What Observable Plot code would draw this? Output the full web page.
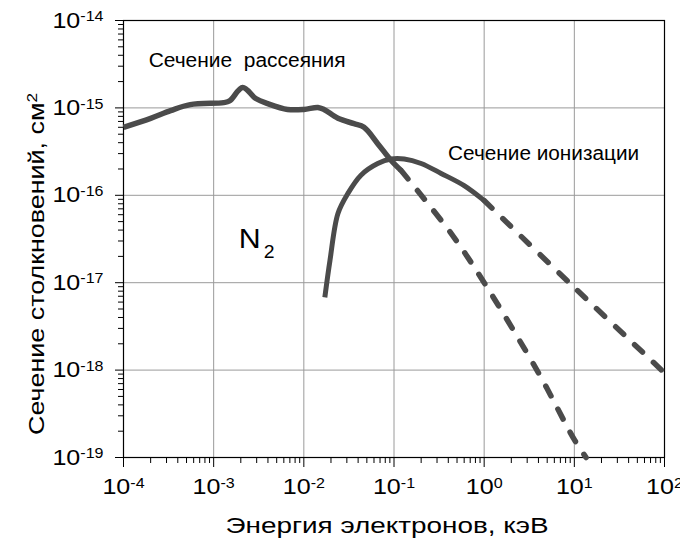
<!DOCTYPE html>
<html><head><meta charset="utf-8">
<script src="https://cdn.jsdelivr.net/npm/d3@7"></script>
<script src="https://cdn.jsdelivr.net/npm/@observablehq/plot@0.6"></script>
<style>
body{margin:0;background:#fff}
#chart svg{font-family:"Liberation Sans",Arial,sans-serif;background:#fff}
</style>
</head><body><div id="chart"></div><script>
// Scattering cross-section (solid part)
const scatterE = [1e-4, 2.0e-4, 3.33e-4, 5.5e-4, 1.29e-3, 1.5e-3, 2.1e-3, 2.93e-3, 3.98e-3, 6.6e-3, 1.0e-2, 1.43e-2, 1.67e-2, 2.39e-2, 3.6e-2, 4.65e-2, 6.6e-2, 9.3e-2, 1.2e-1];
const scatterS = [6.0e-16, 7.6e-16, 9.3e-16, 1.09e-15, 1.15e-15, 1.2e-15, 1.71e-15, 1.28e-15, 1.12e-15, 9.6e-16, 9.6e-16, 1.01e-15, 9.6e-16, 7.6e-16, 6.6e-16, 6.0e-16, 3.9e-16, 2.5e-16, 1.92e-16];
// Scattering cross-section (dashed extrapolation)
const scatterDashE = [1.2e-1, 4.3e-1, 1.0, 4.0, 10, 13.5];
const scatterDashS = [1.92e-16, 3.66e-17, 1.0e-17, 9.3e-19, 1.6e-19, 1.0e-19];
// Ionization cross-section (solid part)
const ionE = [1.71e-2, 1.95e-2, 2.39e-2, 3.08e-2, 4.3e-2, 6.6e-2, 9.3e-2, 1.3e-1, 2.0e-1, 3.33e-1, 6.0e-1, 1.0];
const ionS = [6.8e-18, 1.8e-17, 6.2e-17, 1.05e-16, 1.7e-16, 2.31e-16, 2.6e-16, 2.6e-16, 2.31e-16, 1.78e-16, 1.29e-16, 8.7e-17];
// Ionization cross-section (dashed extrapolation)
const ionDashE = [1.0, 10, 100];
const ionDashS = [8.7e-17, 8.8e-18, 9.3e-19];

const xTickExp = [-4, -3, -2, -1, 0, 1, 2];
const yTickExp = [-19, -18, -17, -16, -15, -14];
const xTitle = "Энергия электронов, кэВ";
const yTitle = "Сечение столкновений, см^2";
const annotText = ["Сечение  рассеяния", "Сечение ионизации"];
const annotE = [1.9e-4, 0.398];
const annotS = [3.52e-15, 3.04e-16];
const moleculeText = ["N"];
const moleculeE = [1.9e-3];
const moleculeS = [3.12e-17];
const moleculeSub = ["2"];
const moleculeSubE = [3.59e-3];
const moleculeSubS = [2.22e-17];

const toRows = (E, S) => E.map((e, i) => ({e, s: S[i]}));
const scatter = toRows(scatterE, scatterS);
const scatterDash = toRows(scatterDashE, scatterDashS);
const ion = toRows(ionE, ionS);
const ionDash = toRows(ionDashE, ionDashS);

const xMajor = xTickExp.map(k => Math.pow(10, k));
const yMajor = yTickExp.map(k => Math.pow(10, k));
const minorOf = (exps) => {
  const out = [];
  for (let i = 0; i < exps.length - 1; i++)
    for (let m = 2; m <= 9; m++) out.push(m * Math.pow(10, exps[i]));
  return out;
};
const xMinor = minorOf(xTickExp);
const yMinor = minorOf(yTickExp);
const expFmt = d => "10^" + Math.round(Math.log10(d));

const lineColor = "#4b4b4b";
const chart = Plot.plot({
  width: 680,
  height: 541,
  marginLeft: 123,
  marginRight: 16,
  marginTop: 20,
  marginBottom: 84,
  style: {fontFamily: "'Liberation Sans', Arial, sans-serif", background: "#fff"},
  x: {type: "log", domain: [1e-4, 1e2]},
  y: {type: "log", domain: [1e-19, 1e-14]},
  marks: [
    Plot.gridX(xMajor, {stroke: "#9a9a9a", strokeOpacity: 1, strokeWidth: 1}),
    Plot.gridY(yMajor, {stroke: "#9a9a9a", strokeOpacity: 1, strokeWidth: 1}),
    Plot.axisX(xMinor, {tickSize: 6, tickFormat: () => "", label: null}),
    Plot.axisY(yMinor, {tickSize: 5, tickFormat: () => "", label: null}),
    Plot.axisX(xMajor, {tickSize: 10, tickPadding: 11, tickFormat: expFmt, fontSize: 22, label: null}),
    Plot.axisY(yMajor, {tickSize: 8, tickPadding: 12, tickFormat: expFmt, fontSize: 22, label: null}),
    Plot.frame({stroke: "#000", strokeWidth: 1.2}),
    Plot.line(scatter, {x: "e", y: "s", stroke: lineColor, strokeWidth: 5.5, curve: "catmull-rom", strokeLinecap: "butt"}),
    Plot.line(ion, {x: "e", y: "s", stroke: lineColor, strokeWidth: 5, curve: "catmull-rom", strokeLinecap: "butt"}),
    Plot.line(scatterDash, {x: "e", y: "s", stroke: lineColor, strokeWidth: 5.5, curve: "catmull-rom", strokeDasharray: "11,15"}),
    Plot.line(ionDash, {x: "e", y: "s", stroke: lineColor, strokeWidth: 5.5, curve: "catmull-rom", strokeDasharray: "11,15"}),
    Plot.text(annotText, {x: annotE, y: annotS, text: d => d, textAnchor: "start", fontSize: 20, fill: "#000"}),
    Plot.text(moleculeText, {x: moleculeE, y: moleculeS, text: d => d, textAnchor: "start", fontSize: 28, fill: "#000"}),
    Plot.text(moleculeSub, {x: moleculeSubE, y: moleculeSubS, text: d => d, textAnchor: "start", fontSize: 18, fill: "#000"}),
    Plot.text([xTitle], {frameAnchor: "bottom", dx: -7, dy: 75, lineAnchor: "bottom", textAnchor: "middle", fontSize: 22, fill: "#000"}),
    Plot.text([yTitle], {frameAnchor: "left", dx: -80, dy: 25, rotate: -90, lineAnchor: "bottom", textAnchor: "middle", fontSize: 22, fill: "#000"})
  ]
});

document.getElementById("chart").appendChild(chart);

// Turn "10^k" / "^2" strings into real superscripts
d3.select(chart).selectAll("text").each(function() {
  const t = d3.select(this);
  const txt = t.text();
  if (!txt.includes("^")) return;
  const [base, exp] = txt.split("^");
  t.text(null);
  t.append("tspan").text(base);
  t.append("tspan").attr("dy", "-0.45em").attr("font-size", "0.64em").text(exp);
});

// Match the slightly wide letterforms of the original
const targetWidth = new Map([[xTitle, 323], [yTitle.replace("^", ""), 342], [annotText[0], 197], [annotText[1], 191]]);
d3.select(chart).selectAll("text").each(function() {
  const txt = this.textContent;
  const natural = this.getComputedTextLength();
  if (!natural) return;
  let len = null;
  if (targetWidth.has(txt)) len = targetWidth.get(txt);
  else if (/^10-?\d+$/.test(txt)) len = natural * 1.14;
  else if (txt === "N" || txt === "2") len = natural * 1.08;
  if (len) {
    this.setAttribute("textLength", len.toFixed(1));
    this.setAttribute("lengthAdjust", "spacingAndGlyphs");
  }
});
</script></body></html>
